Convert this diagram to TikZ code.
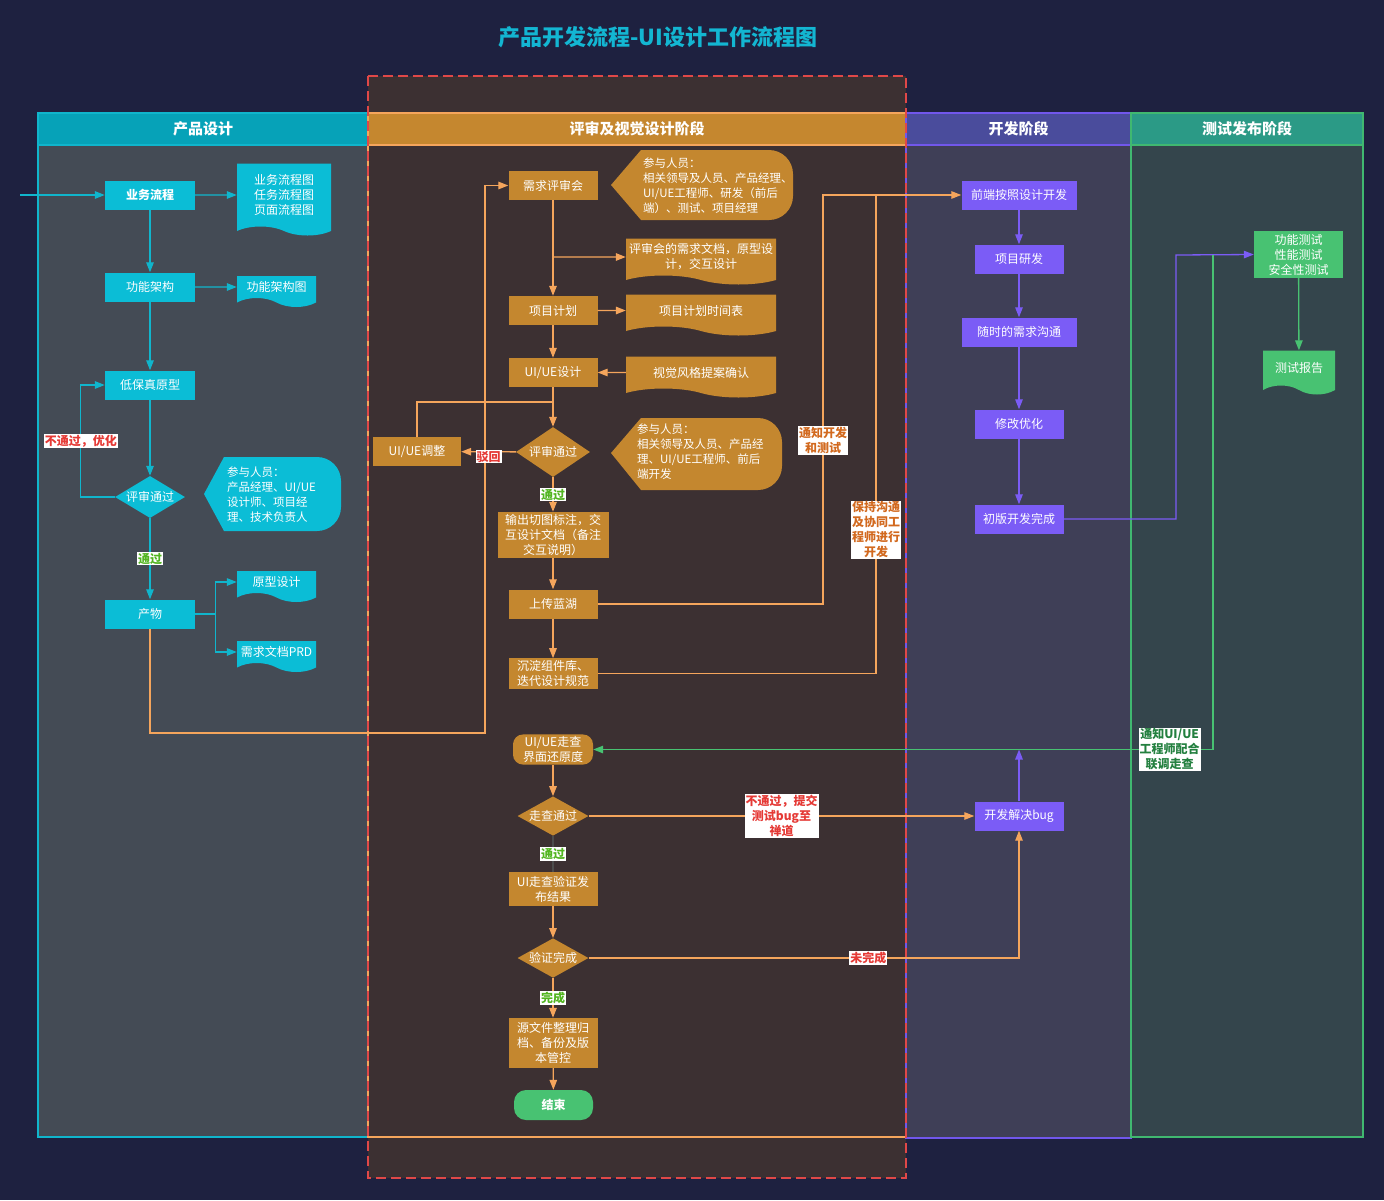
\documentclass[tikz,border=0pt]{standalone}
\usepackage{fontspec}
\setmainfont{Noto Sans CJK SC}
\usetikzlibrary{arrows.meta,positioning,shapes.geometric,shapes.symbols}

\definecolor{bgnavy}{HTML}{1E2140}
\definecolor{titlecyan}{HTML}{13B6D2}
\definecolor{cyanhead}{HTML}{06A2B8}
\definecolor{cyanline}{HTML}{10B5CC}
\definecolor{cyanbody}{HTML}{444B55}
\definecolor{cyannode}{HTML}{0BBDD6}
\definecolor{orghead}{HTML}{C5872F}
\definecolor{orgline}{HTML}{F5A55C}
\definecolor{orgbody}{HTML}{3C3032}
\definecolor{orgnode}{HTML}{C4872F}
\definecolor{purhead}{HTML}{4A4C9C}
\definecolor{purline}{HTML}{7157EC}
\definecolor{purbody}{HTML}{3F3F57}
\definecolor{purnode}{HTML}{7B5CF6}
\definecolor{grnhead}{HTML}{2B9A86}
\definecolor{grnline}{HTML}{40B870}
\definecolor{grnbody}{HTML}{34454C}
\definecolor{grnnode}{HTML}{48C272}
\definecolor{dashred}{HTML}{E04848}
\definecolor{tagred}{HTML}{E53935}
\definecolor{taggreen}{HTML}{52B520}
\definecolor{tagorange}{HTML}{D2691E}
\definecolor{tagdkgreen}{HTML}{23803F}

\tikzset{
        lanehead/.style = {font=\fontsize{15}{18}\selectfont\bfseries,
            text=white, minimum height=32pt, line width=1.3pt},
        box/.style = {rectangle, fill=#1, text=white,
            minimum height=29pt, minimum width=89pt, inner sep=2pt,
            font=\fontsize{12}{15}\selectfont, align=center},
        doc/.style = {tape, tape bend top=none, tape bend bottom=out and in,
            tape bend height=9pt, fill=#1, text=white, inner sep=2pt,
            font=\fontsize{12}{15}\selectfont, align=center},
        decide/.style = {diamond, fill=#1, text=white, inner sep=0pt,
            aspect=1.7, font=\fontsize{12}{15}\selectfont},
        note/.style = {text=white, anchor=west, inner sep=0pt,
            font=\fontsize{11.5}{15}\selectfont, align=left},
        tag/.style = {fill=white, text=#1, inner sep=1pt,
            font=\fontsize{12}{15}\selectfont\bfseries, align=center},
        link/.style = {draw=#1, line width=1.3pt},
        arrow/.style = {draw=#1, line width=1.3pt,
            -{Triangle[length=10pt,width=7.5pt]}},
    }

\begin{document}
\begin{tikzpicture}[x=1pt,y=-1pt]
    \fill[bgnavy] (0,0) rectangle (1384,1200);
    \useasboundingbox (0,0) rectangle (1384,1200);

    \node[font=\fontsize{22}{26}\selectfont\bfseries, text=titlecyan] (title) at (658,37) {产品开发流程-UI设计工作流程图};

    % lanes
    \fill[orgbody] (368,76) rectangle (906,1178);
    \draw[cyanline, fill=cyanbody, line width=1.3pt] (38,113) rectangle (368,1137);
    \draw[orgline, line width=1.3pt] (368,113) rectangle (906,1137);
    \draw[purline, fill=purbody, line width=1.3pt] (906,113) rectangle (1131,1138);
    \draw[grnline, fill=grnbody, line width=1.3pt] (1131,113) rectangle (1363,1137);
    \node[lanehead, fill=cyanhead, draw=cyanline, minimum width=330pt] (laneA) at (203,129) {产品设计};
    \node[lanehead, fill=orghead, draw=orgline, minimum width=538pt] (laneB) at (637,129) {评审及视觉设计阶段};
    \node[lanehead, fill=purhead, draw=purline, minimum width=225pt] (laneC) at (1018.5,129) {开发阶段};
    \node[lanehead, fill=grnhead, draw=grnline, minimum width=232pt] (laneD) at (1247,129) {测试发布阶段};
    \draw[dashred, line width=1.5pt, dash pattern=on 10pt off 5pt] (368,76) rectangle (906,1178);

    % callouts
    \fill[cyannode] (204,494) -- (224,457) [rounded corners=24pt] -- (341,457) -- (341,531) [sharp corners] -- (224,531) -- cycle;
    \fill[orgnode] (611,185) -- (641,150) [rounded corners=24pt] -- (793,150) -- (793,220) [sharp corners] -- (641,220) -- cycle;
    \fill[orgnode] (611,453) -- (641,418) [rounded corners=24pt] -- (782,418) -- (782,490) [sharp corners] -- (641,490) -- cycle;
    \node[note] (ryA) at (227,494.5) {参与人员：\\产品经理、UI/UE\\设计师、项目经\\理、技术负责人};
    \node[note] (ryB) at (643,185.5) {参与人员：\\相关领导及人员、产品经理、\\UI/UE工程师、研发（前后\\端）、测试、项目经理};
    \node[note] (ryC) at (637,451.5) {参与人员：\\相关领导及人员、产品经\\理、UI/UE工程师、前后\\端开发};

    % product design
    \coordinate (start) at (20,195);
    \node[box=cyannode, minimum width=90pt, font=\fontsize{12}{15}\selectfont\bfseries] (ywlc) at (150,195) {业务流程};
    \node[doc=cyannode, minimum width=94pt, minimum height=72pt] (ywdoc) at (284,195) {业务流程图\\任务流程图\\页面流程图};
    \node[box=cyannode, minimum width=90pt] (gnjg) at (150,287) {功能架构};
    \node[doc=cyannode, minimum width=79pt, minimum height=31pt] (gndoc) at (276.5,287) {功能架构图};
    \node[box=cyannode, minimum width=90pt] (dbzy) at (150,385) {低保真原型};
    \node[decide=cyannode, minimum width=70pt, minimum height=42pt] (psA) at (150,497) {评审通过};
    \node[box=cyannode, minimum width=90pt] (chanwu) at (150,614) {产物};
    \node[doc=cyannode, minimum width=79pt, minimum height=31pt] (yxdoc) at (276.5,582) {原型设计};
    \node[doc=cyannode, minimum width=79pt, minimum height=31pt] (prddoc) at (276.5,652) {需求文档PRD};

    \draw[arrow=cyanline] (start) -- (ywlc);
    \draw[arrow=cyanline] (ywlc) -- (ywdoc);
    \draw[arrow=cyanline] (ywlc) -- (gnjg);
    \draw[arrow=cyanline] (gnjg) -- (gndoc);
    \draw[arrow=cyanline] (gnjg) -- (dbzy);
    \draw[arrow=cyanline] (dbzy) -- (psA);
    \draw[arrow=cyanline] (psA.west) -- ++(-34,0) |- node[tag=tagred, pos=0.25] {不通过，优化} (dbzy.west);
    \draw[arrow=cyanline] (psA) -- node[tag=taggreen] {通过} (chanwu);
    \draw[link=cyanline] (chanwu.east) -- ++(20,0) coordinate (cwj);
    \draw[arrow=cyanline] (cwj) |- (yxdoc.west);
    \draw[arrow=cyanline] (cwj) |- (prddoc.west);

    % review and visual design
    \node[box=orgnode] (xqps) at (553,185.5) {需求评审会};
    \node[doc=orgnode, minimum width=150pt, minimum height=46pt] (psdoc) at (701,257) {评审会的需求文档，原型设\\计，交互设计};
    \node[box=orgnode] (xmjh) at (553,310.5) {项目计划};
    \node[doc=orgnode, minimum width=150pt, minimum height=41pt] (jhdoc) at (701,310.5) {项目计划时间表};
    \node[box=orgnode] (uisj) at (553,372.5) {UI/UE设计};
    \node[doc=orgnode, minimum width=150pt, minimum height=41pt] (fgdoc) at (701,372.5) {视觉风格提案确认};
    \node[decide=orgnode, minimum width=74pt, minimum height=50pt] (psB) at (553,452) {评审通过};
    \node[box=orgnode, minimum width=88pt] (uitz) at (417,451.5) {UI/UE调整};
    \node[box=orgnode, minimum width=111pt, minimum height=46pt] (sctb) at (553,535) {输出切图标注，交\\互设计文档（备注\\交互说明）};
    \node[box=orgnode] (sclh) at (553,604) {上传蓝湖};
    \node[box=orgnode] (cdzj) at (553,673.5) {沉淀组件库、\\迭代设计规范};
    \node[box=orgnode, rounded corners=10pt, minimum width=80pt] (zcjm) at (553,749.5) {UI/UE走查\\界面还原度};
    \node[decide=orgnode, minimum width=71pt, minimum height=38pt] (zctg) at (553,816) {走查通过};
    \node[box=orgnode, minimum height=34pt] (yzfb) at (553,889) {UI走查验证发\\布结果};
    \node[decide=orgnode, minimum width=71pt, minimum height=39pt] (yzwc) at (553,958) {验证完成};
    \node[box=orgnode, minimum height=50pt] (wjgd) at (553,1043) {源文件整理归\\档、备份及版\\本管控};
    \node[box=grnnode, rounded corners=12pt, minimum width=79pt, minimum height=30pt, font=\fontsize{12}{15}\selectfont\bfseries] (jieshu) at (553.5,1105) {结束};

    \coordinate (lowrt) at (485,733);
    \coordinate (tzj) at (553,402);
    \draw[arrow=orgline] (chanwu.south) |- (lowrt) |- (xqps.west);
    \draw[arrow=orgline] (xqps) -- (xmjh);
    \draw[arrow=orgline] (xqps |- psdoc) -- (psdoc);
    \draw[arrow=orgline] (xmjh) -- (jhdoc);
    \draw[arrow=orgline] (xmjh) -- (uisj);
    \draw[arrow=orgline] (fgdoc) -- (uisj);
    \draw[arrow=orgline] (uisj) -- (psB);
    \draw[arrow=orgline] (psB) -- node[tag=tagred, yshift=-5pt] {驳回} (uitz);
    \draw[link=orgline] (uitz.north) |- (tzj);
    \draw[arrow=orgline] (psB) -- node[tag=taggreen] {通过} (sctb);
    \draw[arrow=orgline] (sctb) -- (sclh);
    \draw[arrow=orgline] (sclh) -- (cdzj);
    \draw[arrow=orgline] (zcjm) -- (zctg);
    \draw[link=black!70] (zctg) -- node[tag=taggreen] {通过} (yzfb);
    \draw[arrow=orgline] (yzfb) -- (yzwc);
    \draw[arrow=orgline] (yzwc) -- node[tag=taggreen] {完成} (wjgd);
    \draw[arrow=orgline] (wjgd) -- (jieshu);

    % development
    \node[box=purnode, minimum width=115pt] (qdkf) at (1019,195) {前端按照设计开发};
    \node[box=purnode] (xmyf) at (1019,259) {项目研发};
    \node[box=purnode, minimum width=115pt] (sxgt) at (1019,332) {随时的需求沟通};
    \node[box=purnode] (xgyh) at (1019,424) {修改优化};
    \node[box=purnode] (cbwc) at (1019,519) {初版开发完成};
    \node[box=purnode] (kfbug) at (1019,816) {开发解决bug};

    \coordinate (tzkf) at (823,195);
    \coordinate (xtkf) at (876,195);
    \draw[arrow=orgline] (sclh.east) -| node[tag=tagorange, pos=0.7] {通知开发\\和测试} (tzkf) -- (qdkf.west);
    \draw[link=orgline] (cdzj.east) -| node[tag=tagorange, pos=0.65] {保持沟通\\及协同工\\程师进行\\开发} (xtkf);
    \draw[arrow=purnode] (qdkf) -- (xmyf);
    \draw[arrow=purnode] (xmyf) -- (sxgt);
    \draw[arrow=purnode] (sxgt) -- (xgyh);
    \draw[arrow=purnode] (xgyh) -- (cbwc);
    \draw[arrow=orgline] (zctg) -- node[tag=tagred] {不通过，提交\\测试bug至\\禅道} (kfbug);
    \draw[arrow=orgline] (yzwc.east) -| node[tag=tagred, pos=0.325] {未完成} (kfbug.south);

    % test and release
    \node[box=grnnode, minimum width=89pt, minimum height=47pt] (gncs) at (1298.5,254.5) {功能测试\\性能测试\\安全性测试};
    \node[doc=grnnode, minimum width=72pt, minimum height=44pt] (csbg) at (1299,368) {测试报告};
    \coordinate (cbj) at (1176,255);
    \coordinate (tzui) at (1213,255);
    \draw[arrow=grnnode] (gncs) -- (csbg);
    \draw[arrow=purnode] (cbwc.east) -| (cbj) -- (gncs.west);
    \draw[arrow=grnnode] (tzui) |- node[tag=tagdkgreen, pos=0.535] {通知UI/UE\\工程师配合\\联调走查} (zcjm.east);
    \draw[arrow=purnode] (kfbug) -- (kfbug |- zcjm);
\end{tikzpicture}
\end{document}
